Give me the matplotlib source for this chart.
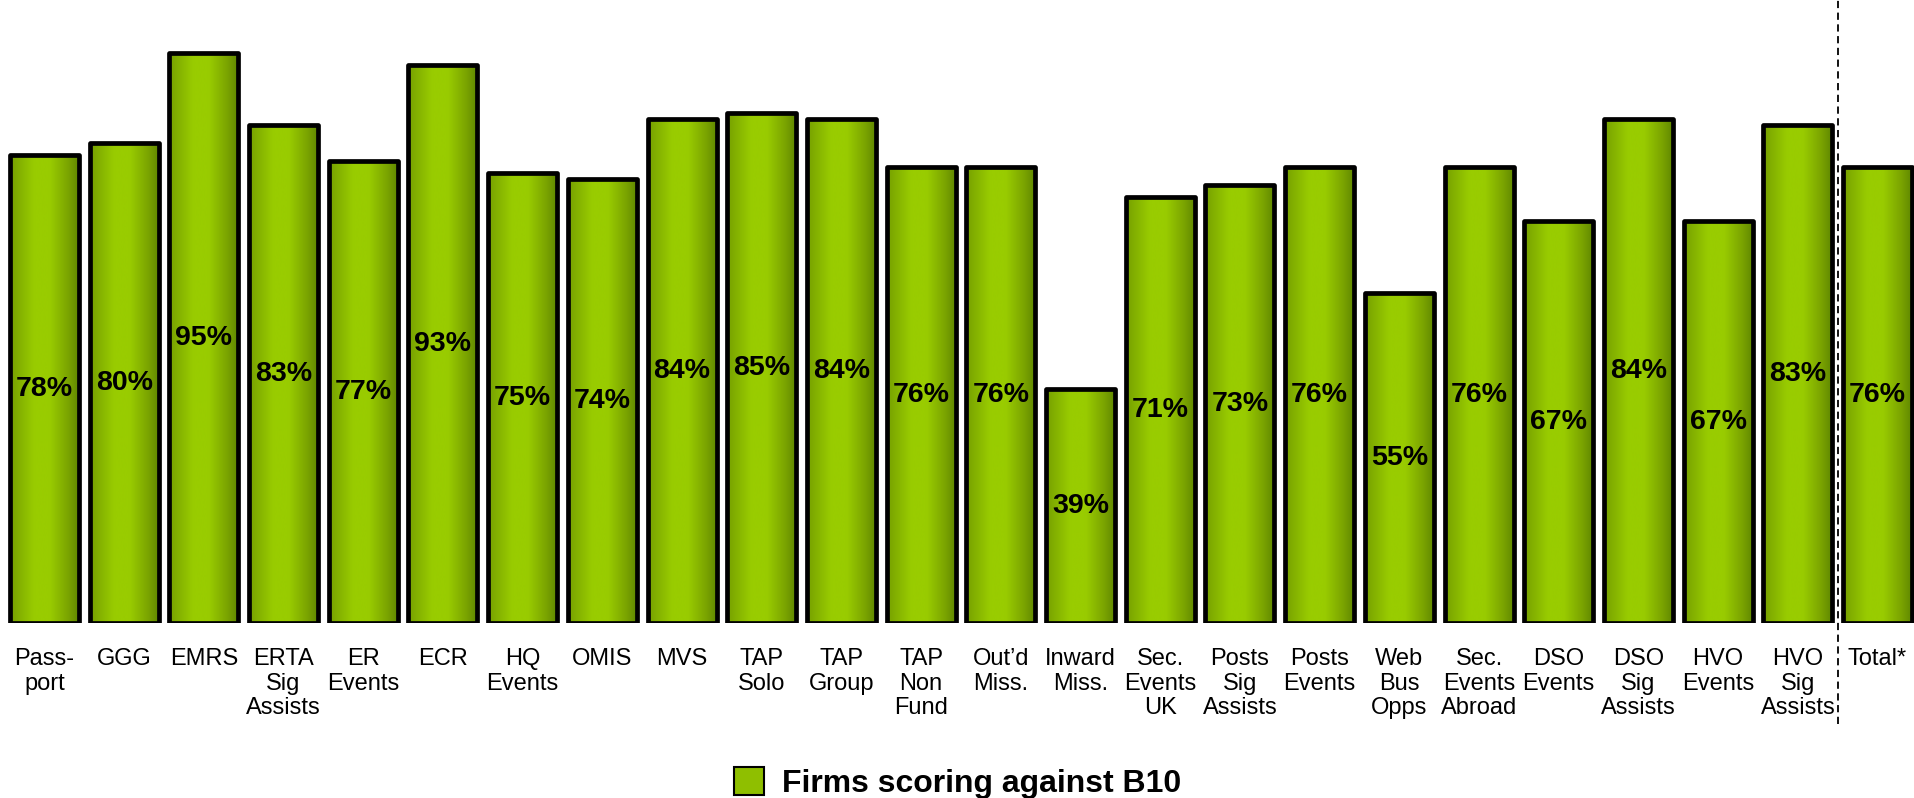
import numpy as np
import matplotlib
matplotlib.use("Agg")
import matplotlib.pyplot as plt
from matplotlib.colors import LinearSegmentedColormap
from matplotlib.patches import Rectangle, Patch

plt.rcParams['font.family'] = ['Liberation Sans', 'DejaVu Sans']

# programme names (multi-line as shown under each bar)
categories = [
    "Pass-\nport", "GGG", "EMRS", "ERTA\nSig\nAssists", "ER\nEvents", "ECR",
    "HQ\nEvents", "OMIS", "MVS", "TAP\nSolo", "TAP\nGroup", "TAP\nNon\nFund",
    "Out'd\nMiss.", "Inward\nMiss.", "Sec.\nEvents\nUK", "Posts\nSig\nAssists",
    "Posts\nEvents", "Web\nBus\nOpps", "Sec.\nEvents\nAbroad", "DSO\nEvents",
    "DSO\nSig\nAssists", "HVO\nEvents", "HVO\nSig\nAssists", "Total*",
]
categories = [c.replace("'", "\u2019") for c in categories]

# % of firms scoring against B10
values = [78, 80, 95, 83, 77, 93, 75, 74, 84, 85, 84, 76,
          76, 39, 71, 73, 76, 55, 76, 67, 84, 67, 83, 76]

series_name = "Firms scoring against B10"

# horizontal shading used inside each bar
green = LinearSegmentedColormap.from_list(
    "bar_green",
    [(0.0, "#76a000"), (0.35, "#99cc00"), (0.58, "#99cc00"),
     (0.85, "#7aa300"), (1.0, "#608800")])
shade = np.linspace(0, 1, 256).reshape(1, -1)

fig = plt.figure(figsize=(19.15, 7.98), dpi=100)
ax = fig.add_axes([0, 0.2193, 1, 0.7519])

width = 0.865
x = np.arange(len(values))
for xi, v in zip(x, values):
    left = xi - width / 2
    im = ax.imshow(shade, cmap=green, aspect="auto", interpolation="bicubic",
                   extent=[left, left + width, 0, v], zorder=2)
    border = Rectangle((left, 0), width, v, facecolor="none",
                       edgecolor="black", linewidth=3.4, joinstyle="round",
                       zorder=3)
    ax.add_patch(border)
    im.set_clip_path(border)
    ax.text(xi, v / 2, f"{v}%", ha="center", va="center",
            fontsize=20.5, fontweight="bold", zorder=4)

# separator between the programmes and the overall total
ax.axvline(len(values) - 1.5, ymin=-0.168, ymax=1.04, color="black",
           linestyle=(0, (4, 2.5)), linewidth=1.3, clip_on=False)

ax.set_xlim(-0.558, 23.47)
ax.set_ylim(0, 100)
ax.set_xticks(x)
ax.set_xticklabels(categories, fontsize=17, linespacing=1.15)
ax.tick_params(axis="x", length=0, pad=18)
ax.set_yticks([])
for s in ax.spines.values():
    s.set_visible(False)

handle = Patch(facecolor="#8fbf00", edgecolor="black", linewidth=1.5)
fig.legend([handle], [series_name], loc="center",
           bbox_to_anchor=(0.5, 0.0185), frameon=False,
           prop={"size": 23, "weight": "bold"},
           handlelength=0.95, handleheight=0.95, handletextpad=0.55)

fig.savefig("out.png", dpi=100)
